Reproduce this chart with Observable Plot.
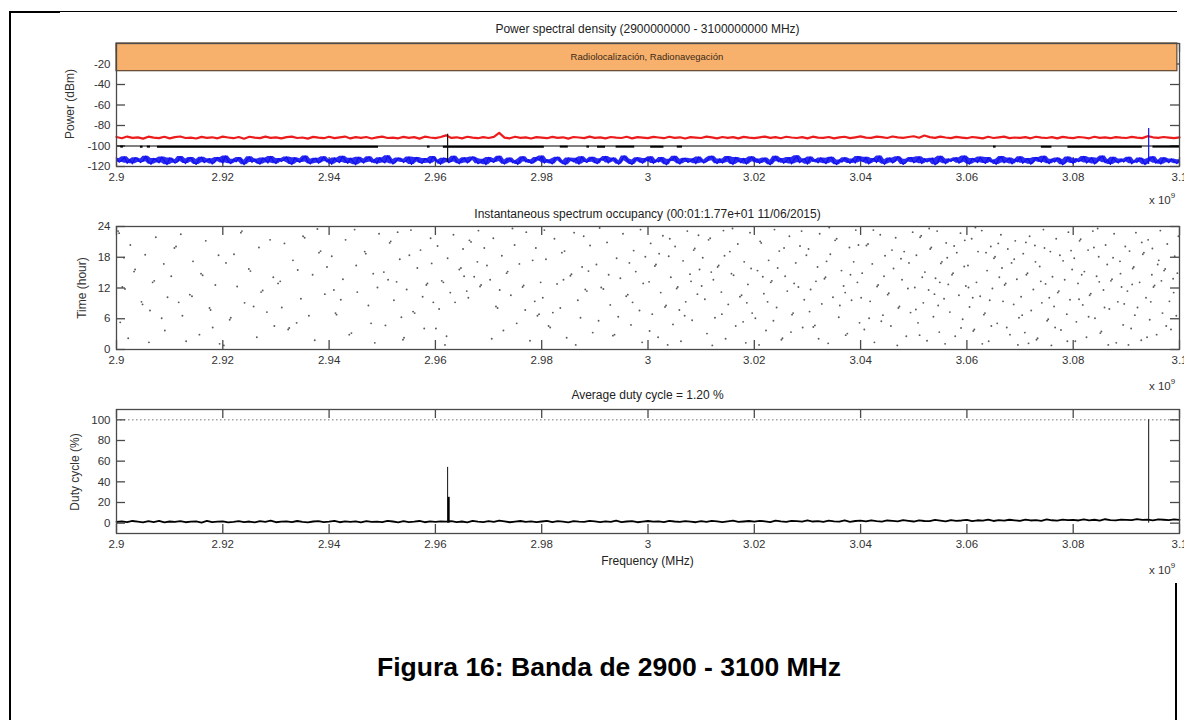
<!DOCTYPE html>
<html>
<head>
<meta charset="utf-8">
<script src="https://cdn.jsdelivr.net/npm/d3@7"></script>
<script src="https://cdn.jsdelivr.net/npm/@observablehq/plot@0.6"></script>
<style>
  body { margin: 0; background: #fff; }
  #root { position: relative; width: 1184px; height: 720px; overflow: hidden; background: #fff;
          font-family: "Liberation Sans", Arial, sans-serif; color: #222; }
  .panel { position: absolute; left: 0; }
  .ttl { position: absolute; left: 116px; width: 1063px; text-align: center; font-size: 12px; line-height: 14px; color: #222; white-space: nowrap; }
  .ylab { position: absolute; transform: translate(-50%, -50%) rotate(-90deg); font-size: 12px; white-space: nowrap; color: #333; }
  .mult { position: absolute; left: 1149px; font-size: 11.5px; color: #333; white-space: nowrap; }
  .mult sup { font-size: 8px; vertical-align: 6px; }
  .bord { position: absolute; background: #000; }
  #caption { position: absolute; left: 609px; top: 652px; transform: translateX(-50%); font-weight: bold; font-size: 26.5px; line-height: 30px; white-space: nowrap; color: #000; }
</style>
</head>
<body>
<div id="root">
  <div class="bord" style="left:9px;top:11px;width:1168px;height:1px"></div>
  <div class="bord" style="left:9px;top:11px;width:51px;height:2px"></div>
  <div class="bord" style="left:9px;top:11px;width:2px;height:709px"></div>
  <div class="bord" style="left:1175px;top:583px;width:2px;height:137px"></div>

  <div class="ttl" style="top:22px">Power spectral density (2900000000 - 3100000000 MHz)</div>
  <div class="ttl" style="top:207px">Instantaneous spectrum occupancy (00:01:1.77e+01 11/06/2015)</div>
  <div class="ttl" style="top:388px">Average duty cycle = 1.20 %</div>
  <div class="ttl" style="top:554px">Frequency (MHz)</div>

  <div class="ylab" style="left:70px;top:104px">Power (dBm)</div>
  <div class="ylab" style="left:82px;top:288px">Time (hour)</div>
  <div class="ylab" style="left:75px;top:472px">Duty cycle (%)</div>

  <div class="mult" style="top:191px">x 10<sup>9</sup></div>
  <div class="mult" style="top:377px">x 10<sup>9</sup></div>
  <div class="mult" style="top:561px">x 10<sup>9</sup></div>

  <div id="p1" class="panel" style="top:20px"></div>
  <div id="p2" class="panel" style="top:210px"></div>
  <div id="p3" class="panel" style="top:395px"></div>

  <div id="caption">Figura 16: Banda de 2900 - 3100 MHz</div>
</div>
<script>
// ---------- DATA ----------
const freqStart = 2.9;            // x 10^9 Hz
const freqEnd = 3.1;
const freqTicks = [2.9, 2.92, 2.94, 2.96, 2.98, 3.0, 3.02, 3.04, 3.06, 3.08, 3.1];
const freqTickLabels = ["2.9", "2.92", "2.94", "2.96", "2.98", "3", "3.02", "3.04", "3.06", "3.08", "3.1"];
const powerTicks = [-120, -100, -80, -60, -40, -20];
const hourTicks = [0, 6, 12, 18, 24];
const dutyTicks = [0, 20, 40, 60, 80, 100];

// allocation band
const bandName = ["Radiolocalización, Radionavegación"];
const bandFreqFrom = [2.9];
const bandFreqTo = [3.0996];
const bandPowerLow = [-27];
const bandPowerHigh = [0];

// PSD traces (sampled every 1 MHz for red, 0.5 MHz for blue)
const redStep = 0.001;
const redPower = [
 -91.2,-92.4,-90.8,-92.1,-91.6,-92.8,-90.9,-91.8,-92.3,-91.0,-92.6,-91.4,-90.7,-92.2,-91.9,-92.7,-91.1,-92.0,-91.5,-92.5,
 -90.9,-91.7,-92.4,-91.2,-92.9,-91.0,-91.8,-92.3,-90.8,-92.1,-91.6,-92.6,-91.3,-90.9,-92.2,-91.7,-92.8,-91.1,-91.9,-92.4,
 -91.0,-92.3,-91.5,-90.8,-92.6,-91.4,-92.0,-91.2,-92.7,-91.6,-90.9,-92.2,-91.8,-92.5,-91.1,-92.0,-91.4,-92.8,-90.9,-91.7,
 -92.3,-91.2,-89.6,-92.1,-91.5,-92.6,-91.0,-91.9,-92.4,-91.3,-92.2,-91.1,-87.2,-91.8,-92.5,-91.0,-92.1,-91.6,-92.7,-91.3,
 -91.9,-92.4,-91.1,-92.0,-91.5,-92.8,-91.2,-91.7,-92.3,-90.9,-92.0,-91.6,-92.5,-91.2,-91.8,-92.2,-91.0,-92.6,-91.4,-91.9,
 -92.3,-91.1,-91.7,-92.4,-91.0,-92.1,-91.5,-92.7,-91.3,-91.8,-92.2,-90.9,-91.6,-92.5,-91.2,-92.0,-91.4,-92.6,-91.1,-91.9,
 -92.3,-91.5,-90.8,-92.1,-91.3,-92.4,-91.0,-91.7,-92.2,-91.4,-92.6,-90.9,-91.8,-92.0,-91.2,-92.5,-91.6,-91.0,-92.3,-91.5,
 -90.6,-91.8,-92.1,-90.9,-91.4,-92.2,-90.7,-91.6,-92.0,-91.2,-90.5,-91.9,-89.8,-91.3,-92.1,-90.8,-91.7,-92.3,-91.1,-91.8,
 -92.4,-91.2,-91.9,-92.6,-91.0,-92.2,-91.5,-90.9,-92.3,-91.7,-92.1,-91.3,-92.5,-91.0,-91.8,-92.2,-91.4,-92.6,-91.1,-91.9,
 -92.3,-91.2,-91.7,-92.5,-91.0,-92.1,-91.6,-92.4,-91.3,-91.9,-92.2,-91.1,-91.8,-92.3,-90.4,-91.5,-92.0,-91.2,-91.8,-92.4,
 -91.6
];
const blueStep = 0.0005;
const bluePower = [
 -112.3,-115.8,-114.1,-110.6,-116.9,-113.2,-117.4,-111.5,-112.8,-116.2,-114.7,-109.9,-115.3,-117.8,-112.1,-113.9,-116.5,-110.8,-114.4,-118.2,
 -111.7,-113.5,-116.8,-115.1,-110.3,-114.9,-117.1,-112.6,-111.2,-115.7,-118.0,-113.1,-110.9,-116.3,-114.2,-112.4,-117.6,-115.0,-111.1,-113.7,
 -116.7,-109.7,-114.6,-117.3,-112.9,-115.5,-111.3,-113.8,-118.3,-114.0,-110.5,-116.1,-112.7,-115.9,-117.7,-111.8,-113.3,-116.6,-110.2,-114.8,
 -117.2,-112.2,-115.2,-113.6,-110.7,-116.4,-118.1,-111.4,-114.3,-116.0,-112.5,-109.8,-115.6,-117.5,-113.0,-111.9,-116.9,-114.5,-110.4,-115.4,
 -113.4,-117.9,-111.6,-114.9,-116.2,-110.1,-113.8,-117.0,-112.0,-115.1,-118.4,-111.0,-114.1,-116.7,-112.8,-110.6,-115.8,-113.5,-117.3,-111.4,
 -114.7,-116.5,-109.6,-113.1,-117.6,-115.3,-111.7,-112.9,-116.1,-114.4,-110.8,-118.0,-113.9,-111.2,-115.7,-117.1,-112.3,-114.0,-116.8,-110.3,
 -113.6,-115.0,-117.8,-111.9,-112.6,-116.3,-114.6,-109.9,-115.5,-117.4,-113.2,-111.5,-116.6,-114.2,-110.7,-112.1,-117.2,-115.9,-113.0,-118.3,
 -111.1,-114.8,-116.0,-112.4,-110.0,-115.2,-117.7,-113.7,-111.8,-116.4,-114.5,-118.1,-112.7,-110.5,-115.6,-113.3,-117.0,-116.2,-111.3,-114.1,
 -109.8,-116.8,-113.4,-115.1,-117.5,-112.2,-110.9,-114.3,-116.5,-118.2,-111.6,-113.8,-115.4,-112.0,-117.9,-110.4,-114.7,-116.1,-113.1,-111.0,
 -115.8,-117.3,-112.5,-114.0,-110.2,-116.7,-113.5,-111.7,-115.3,-117.8,-114.4,-109.7,-112.8,-116.3,-118.0,-113.6,-111.4,-115.0,-116.9,-112.3,
 -114.6,-110.6,-117.1,-113.9,-115.7,-111.2,-116.2,-118.4,-112.9,-114.2,-110.1,-115.5,-117.6,-113.0,-111.9,-116.0,-114.8,-112.4,-117.4,-110.8,
 -113.7,-116.6,-115.2,-111.5,-109.9,-114.5,-117.2,-112.6,-116.8,-113.2,-110.3,-115.9,-118.1,-111.1,-114.1,-116.4,-112.1,-117.7,-113.4,-110.5,
 -115.6,-112.7,-117.0,-114.3,-111.8,-116.1,-118.3,-113.8,-110.0,-115.4,-112.2,-116.9,-114.9,-111.3,-117.5,-113.1,-109.6,-116.3,-114.0,-112.5,
 -117.8,-110.7,-115.1,-113.3,-116.5,-111.6,-114.7,-117.3,-112.0,-110.9,-116.0,-118.2,-113.6,-115.8,-111.4,-114.4,-117.0,-112.8,-116.7,-110.2,
 -113.9,-115.3,-111.0,-117.6,-114.2,-112.3,-116.2,-109.8,-115.0,-117.9,-113.5,-111.7,-116.6,-114.6,-110.4,-112.9,-118.0,-115.7,-113.0,-111.2,
 -116.4,-114.8,-110.6,-117.2,-112.4,-115.5,-113.7,-111.9,-118.4,-116.1,-110.1,-114.0,-117.4,-112.6,-115.2,-113.2,-111.5,-116.8,-114.5,-109.7,
 -115.9,-117.7,-112.1,-113.4,-116.3,-110.8,-114.9,-117.0,-111.3,-115.6,-113.8,-118.1,-112.7,-110.3,-116.5,-114.3,-111.8,-117.5,-113.1,-115.4,
 -110.5,-116.9,-114.1,-112.2,-117.8,-115.0,-111.1,-113.6,-116.0,-109.9,-114.7,-117.3,-112.9,-115.8,-111.6,-113.3,-118.3,-116.2,-110.7,-114.6,
 -117.1,-112.5,-115.3,-113.9,-110.2,-116.7,-114.2,-111.4,-117.6,-115.1,-112.0,-109.8,-116.4,-113.5,-118.0,-111.0,-114.8,-116.6,-112.8,-115.7,
 -113.0,-110.9,-117.4,-114.5,-116.1,-111.7,-113.2,-118.2,-115.4,-112.3,-110.4,-116.8,-114.0,-117.7,-111.5,-113.7,-116.3,-112.6,-115.0,-117.2,
 -113.3
];
// detection threshold
const thresholdPower = [-100];
// black trace pieces: start freq, end freq, level
const blackFrom  = [2.9008, 2.9045, 2.9058, 2.9077, 2.9585, 2.9615, 2.9835, 2.9885, 2.9905, 2.9940, 3.0005, 3.0055, 3.0650, 3.0740, 3.0790, 3.0950];
const blackTo    = [2.9013, 2.9050, 2.9064, 2.9493, 2.9590, 2.9805, 2.9850, 2.9890, 2.9920, 2.9975, 3.0030, 3.0065, 3.0655, 3.0760, 3.0930, 3.1000];
const blackLevel = [-100.6, -100.7, -100.6, -100.7, -100.6, -100.7, -100.6, -100.6, -100.7, -100.6, -100.7, -100.6, -100.6, -100.7, -100.7, -100.6];
// spikes in the PSD
const spikeFreq = [2.9623, 3.0942];
const spikeLow = [-116, -118];
const spikeHigh = [-88.5, -83];
const spikeColor = ["#111", "#1010f0"];

// occupancy events: [MHz above 2900 MHz, hour]
const occupancy = [
 [0.3,23.1],[0.5,22.7],[1.4,17.9],[1.1,12.2],[1.6,11.8],[0.7,5.3],[2.6,20.4],[3.3,15.2],[3.5,15.6],[2.2,2.2],[4.7,9.3],[4.9,8.8],[5.4,18.5],[6.1,1.4],[6.8,13.1],[7.1,13.4],[7.4,21.9],[8.5,6.1],[8.9,16.7],[9.6,10.2],[9.1,3.7],[6.3,7.6],
 [10.3,14.3],[10.9,19.8],[11.2,20.1],[12.4,6.6],[12.1,22.5],[13.8,10.7],[14.2,10.4],[14.4,17.2],[15.6,2.9],[15.9,14.8],[16.2,14.5],[16.8,21.2],[17.5,8.1],[17.7,7.7],[18.6,12.6],[19.2,18.4],[19.4,1.1],[18.1,4.3],[13.1,1.6],[11.7,9.2],
 [20.6,16.9],[21.3,5.8],[21.5,6.2],[22.7,12.3],[23.4,22.8],[23.6,23.1],[24.1,9.1],[24.9,15.7],[25.2,15.3],[26.4,2.4],[26.8,19.9],[27.5,11.5],[27.2,11.2],[28.3,7.3],[28.9,21.4],[29.5,14.1],[29.7,4.6],[22.1,18.6],[25.8,8.4],[20.2,0.8],
 [30.4,12.9],[30.8,13.3],[31.6,20.7],[32.3,3.9],[32.5,4.2],[33.2,17.4],[34.7,9.9],[35.1,22.1],[35.4,21.8],[36.2,6.6],[36.9,14.6],[37.3,1.8],[38.1,18.9],[38.4,19.2],[39.2,10.8],[39.6,16.1],[31.1,8.2],[34.1,15.5],[37.8,23.5],[33.9,5.2],
 [40.5,18.2],[41.2,7.1],[41.4,6.8],[42.6,13.7],[43.1,21.4],[43.8,2.9],[44.2,3.2],[45.3,11.2],[45.1,16.4],[46.7,19.1],[46.9,18.7],[47.4,8.6],[48.3,14.8],[48.6,1.3],[49.4,22.6],[49.1,12.1],[40.9,11.6],[44.8,23.4],[47.9,5.1],[42.2,9.7],
 [50.3,15.1],[50.6,4.7],[51.4,20.8],[51.6,21.1],[52.2,9.6],[52.7,13.2],[53.3,17.6],[53.9,1.9],[54.1,2.3],[54.6,11.7],[55.4,23.3],[55.8,7.4],[56.1,7.1],[56.6,15.9],[57.2,19.4],[57.9,4.1],[58.3,12.6],[58.5,12.9],[59.1,21.7],[59.6,9.2],[51.1,13.6],[53.6,6.3],[55.1,18.4],[57.6,10.3],[59.3,16.8],[52.9,22.9],
 [60.4,20.2],[60.7,7.9],[61.2,13.4],[61.5,13.1],[62.3,17.8],[62.1,2.6],[63.4,22.4],[63.7,9.2],[64.5,15.6],[64.8,15.9],[65.2,19.6],[65.9,11.4],[66.4,21.3],[66.7,21.0],[67.3,14.2],[67.9,17.1],[68.4,12.3],[68.6,12.6],[69.2,19.8],[69.7,16.4],[60.1,4.1],[62.8,11.1],[65.4,14.3],[68.1,23.2],[66.2,10.1],[61.8,0.9],
 [70.3,13.6],[70.9,21.7],[71.4,8.4],[71.7,8.1],[72.5,18.3],[72.8,3.7],[73.4,14.9],[73.6,15.2],[74.2,10.6],[74.9,20.4],[75.3,5.1],[75.8,16.7],[76.4,12.2],[76.6,12.5],[77.1,22.9],[77.8,1.7],[78.3,17.4],[78.7,9.4],[79.2,6.6],[79.5,6.9],[70.6,2.1],[72.1,11.6],[74.5,23.6],[76.9,7.7],[78.9,19.8],[79.8,13.1],
 [80.2,10.1],[80.8,17.6],[81.3,4.6],[81.6,4.3],[82.4,21.6],[82.9,12.8],[83.5,8.1],[83.8,18.9],[84.3,19.2],[84.7,2.3],[85.4,14.4],[85.6,14.7],[86.1,22.8],[86.8,9.6],[87.3,6.2],[87.6,16.1],[88.2,11.7],[88.5,11.4],[89.1,20.3],[89.6,3.3],[80.5,23.3],[82.1,7.2],[84.1,13.6],[86.4,0.9],[88.8,15.3],[87.9,22.1],
 [90.3,16.6],[90.7,5.6],[91.2,12.1],[91.6,11.8],[92.3,20.9],[92.9,8.7],[93.4,2.7],[93.7,2.9],[94.1,17.8],[94.8,13.9],[95.3,22.6],[95.9,10.4],[96.2,10.7],[96.8,4.8],[97.3,19.3],[97.7,15.2],[98.4,7.6],[98.6,23.4],[99.1,12.9],[99.5,18.1],[90.9,23.7],[92.6,14.6],[94.4,6.4],[96.5,16.9],[98.9,1.4],[97.1,9.2],
 [100.2,13.2],[100.5,20.7],[100.8,6.9],[101.3,16.3],[101.5,16.6],[101.9,2.4],[102.4,11.1],[102.8,22.2],[103.2,8.3],[103.4,8.6],[103.9,18.2],[104.3,14.1],[104.7,4.9],[105.1,20.1],[105.4,11.9],[105.6,12.2],[106.2,1.6],[106.6,17.3],[107.1,9.3],[107.4,23.1],[107.9,14.7],[108.3,5.7],[108.6,19.4],[108.8,19.7],[109.3,10.8],[109.7,15.6],[100.3,3.6],[102.1,18.7],[104.1,21.6],[106.9,6.6],[108.1,13.3],[105.9,7.7],[103.7,0.9],[109.5,22.3],
 [110.3,17.9],[110.7,9.8],[111.1,3.1],[111.4,21.4],[111.7,21.7],[112.3,13.6],[112.6,6.2],[113.1,16.1],[113.3,16.4],[113.8,11.2],[114.2,23.2],[114.6,2.1],[115.1,8.8],[115.4,19.1],[115.7,14.8],[116.1,14.5],[116.5,4.6],[116.9,20.6],[117.3,10.3],[117.6,10.6],[118.1,17.1],[118.4,1.3],[118.8,12.7],[119.2,22.8],[119.6,7.1],[110.1,12.4],[112.1,0.8],[113.9,6.9],[115.9,23.6],[117.9,5.4],[119.4,15.8],[114.4,18.3],[111.9,15.1],[118.6,9.1],
 [120.2,6.1],[120.6,15.4],[121.1,21.1],[121.3,20.8],[121.8,10.9],[122.2,3.7],[122.7,17.4],[123.1,13.1],[123.3,13.4],[123.8,23.4],[124.2,8.2],[124.7,19.2],[125.1,1.9],[125.3,2.2],[125.8,14.3],[126.2,11.4],[126.6,22.1],[127.1,6.8],[127.3,7.1],[127.8,16.9],[128.3,12.2],[128.6,20.2],[129.1,4.3],[129.4,9.7],[129.8,18.4],[120.9,0.9],[122.5,9.3],[124.4,15.9],[126.9,3.4],[128.9,23.1],[123.6,5.6],[127.5,12.9],[121.6,14.2],[125.6,19.8],
 [130.2,19.6],[130.6,11.7],[131.1,4.4],[131.4,4.7],[131.9,16.1],[132.3,22.6],[132.7,8.9],[133.2,13.8],[133.4,14.1],[133.9,1.2],[134.3,18.6],[134.8,10.2],[135.2,21.3],[135.5,21.6],[135.9,6.3],[136.4,15.4],[136.8,12.4],[137.2,2.8],[137.5,3.1],[137.9,19.9],[138.3,9.6],[138.7,17.1],[139.1,23.3],[139.4,13.1],[139.8,5.2],[130.4,7.4],[132.1,2.1],[134.1,23.8],[136.1,8.6],[138.1,14.6],[139.6,20.4],[133.6,17.2],[131.6,13.3],[137.1,11.1],
 [140.3,14.9],[140.7,3.9],[141.1,20.3],[141.4,20.6],[141.8,9.4],[142.2,16.7],[142.6,1.4],[143.1,12.3],[143.3,12.6],[143.7,22.4],[144.2,6.7],[144.6,18.3],[145.1,10.7],[145.3,11.0],[145.7,4.6],[146.2,15.8],[146.6,21.8],[147.1,8.1],[147.3,8.4],[147.8,13.6],[148.2,19.1],[148.6,2.6],[149.1,16.9],[149.4,7.2],[149.8,22.9],[140.1,10.1],[142.4,23.3],[144.4,14.3],[146.9,0.8],[148.9,11.9],[143.9,5.5],[145.9,19.4],[141.6,6.1],[147.6,17.7],
 [150.2,12.1],[150.5,18.4],[150.8,5.2],[151.2,21.9],[151.4,22.2],[151.8,9.1],[152.1,15.1],[152.5,1.7],[152.8,11.6],[153.1,19.6],[153.3,19.9],[153.7,6.4],[154.1,13.9],[154.4,23.1],[154.8,3.4],[155.1,16.8],[155.3,17.1],[155.7,9.9],[156.1,20.8],[156.5,12.7],[156.8,7.3],[157.2,14.6],[157.4,14.9],[157.8,2.6],[158.1,18.9],[158.5,10.6],[158.8,22.7],[159.2,5.9],[159.5,16.2],[159.8,12.4],[150.4,7.8],[151.6,14.1],[152.9,23.6],[154.6,8.6],[155.9,1.1],[157.6,20.2],[158.9,4.2],[156.3,17.9],[153.9,10.8],[151.1,2.8],[159.6,21.3],[154.9,13.1],
 [160.2,16.4],[160.5,8.3],[160.9,21.6],[161.2,3.6],[161.4,3.9],[161.8,13.1],[162.1,19.1],[162.5,10.4],[162.8,23.2],[163.2,6.8],[163.4,7.1],[163.8,15.4],[164.1,1.6],[164.5,20.1],[164.8,11.9],[165.1,17.8],[165.3,18.1],[165.7,5.1],[166.1,14.1],[166.4,22.4],[166.8,9.4],[167.1,12.6],[167.3,12.9],[167.7,19.6],[168.1,2.9],[168.4,16.9],[168.8,8.8],[169.1,21.2],[169.4,13.7],[169.8,6.2],[160.3,12.1],[161.6,23.8],[162.9,1.1],[164.3,9.6],[165.9,20.7],[167.5,4.3],[168.9,17.6],[166.6,15.9],[163.6,18.9],[161.1,10.1],[169.6,0.9],[164.6,4.6],
 [170.2,10.3],[170.6,18.7],[170.9,3.3],[171.2,14.6],[171.4,14.9],[171.8,22.1],[172.1,7.6],[172.5,11.7],[172.8,20.3],[173.1,1.9],[173.3,2.2],[173.7,16.2],[174.1,9.1],[174.4,23.4],[174.8,12.8],[175.1,5.6],[175.3,5.9],[175.7,19.1],[176.1,14.2],[176.4,8.4],[176.8,21.6],[177.1,11.1],[177.3,11.4],[177.7,3.8],[178.1,17.3],[178.4,13.6],[178.8,6.9],[179.1,22.9],[179.4,9.7],[179.8,15.6],[170.4,6.7],[171.6,1.2],[172.9,17.1],[174.6,19.8],[175.9,0.8],[177.5,18.4],[178.9,1.6],[176.6,4.3],[173.9,13.3],[171.1,20.9],[179.6,19.3],[175.5,10.1],
 [180.2,17.8],[180.6,5.4],[180.9,12.9],[181.2,21.2],[181.4,21.5],[181.8,8.7],[182.1,15.2],[182.5,2.4],[182.8,19.4],[183.1,10.6],[183.3,10.9],[183.7,23.1],[184.1,6.1],[184.4,14.3],[184.8,18.1],[185.1,3.2],[185.3,3.5],[185.7,11.6],[186.1,20.4],[186.4,16.6],[186.8,7.9],[187.1,13.4],[187.3,13.7],[187.7,22.6],[188.1,1.3],[188.4,9.3],[188.8,17.2],[189.1,12.2],[189.4,4.8],[189.8,20.1],[180.4,1.6],[181.6,14.6],[182.9,6.4],[184.6,23.6],[185.9,8.2],[187.5,17.9],[188.9,14.8],[186.6,0.9],[183.9,19.9],[181.1,9.8],[189.6,8.9],[184.9,13.2],
 [190.2,11.4],[190.6,19.2],[190.9,4.1],[191.2,15.8],[191.4,16.1],[191.8,22.8],[192.1,8.2],[192.5,13.1],[192.8,1.8],[193.1,18.6],[193.3,18.9],[193.7,10.1],[194.1,21.4],[194.4,5.8],[194.8,14.6],[195.1,12.2],[195.3,12.5],[195.7,2.9],[196.1,17.4],[196.4,23.2],[196.8,7.1],[197.1,15.4],[197.3,15.7],[197.7,20.6],[198.1,9.4],[198.4,3.9],[198.8,13.8],[199.1,18.2],[199.4,6.6],[199.8,22.1],[190.4,0.9],[191.6,6.7],[192.9,20.9],[194.6,9.3],[195.9,16.6],[197.5,4.6],[198.9,11.1],[196.6,13.4],[193.9,2.4],[191.1,12.7],[199.6,14.9],[194.9,19.7]
];

// duty cycle (%) every 1 MHz
const dutyStep = 0.001;
const dutyCycle = [
 1.2,1.8,0.9,2.1,1.4,0.7,1.9,1.1,2.3,0.8,1.6,1.3,2.0,0.9,1.5,1.7,0.6,2.2,1.0,1.4,
 1.8,0.8,1.3,2.0,1.1,1.6,0.7,1.9,1.2,2.4,0.9,1.5,1.7,1.0,2.1,1.3,0.8,1.6,1.9,1.1,
 1.4,2.2,0.9,1.7,1.2,1.8,0.7,2.0,1.3,1.5,1.0,2.3,1.6,0.8,1.9,1.1,1.4,2.1,0.9,1.7,
 1.3,1.8,1.5,2.0,1.1,1.6,0.8,2.2,1.4,1.0,1.9,1.2,2.5,1.7,0.9,1.5,2.1,1.3,1.8,1.0,
 1.6,2.3,1.1,1.9,1.4,0.8,2.0,1.5,1.2,2.2,1.7,1.0,1.8,1.3,2.4,1.1,1.6,2.0,0.9,1.5,
 2.1,1.4,1.8,1.1,2.3,1.6,1.2,2.0,1.5,0.9,1.9,1.3,2.2,1.7,1.0,1.8,2.4,1.2,1.6,2.1,
 1.5,2.3,1.8,1.1,2.5,1.7,1.3,2.2,1.9,1.4,2.6,1.6,2.0,1.2,2.4,1.8,1.5,2.7,1.3,2.1,
 2.4,1.7,2.8,2.0,1.5,2.6,2.2,1.8,3.0,2.3,1.6,2.7,2.1,1.9,3.1,2.4,1.7,2.9,2.2,2.6,
 3.2,2.0,2.8,2.5,3.4,2.1,2.9,2.4,3.3,2.7,2.2,3.5,2.6,3.0,2.3,3.6,2.8,2.5,3.4,2.9,
 3.1,2.6,3.7,2.8,3.3,2.4,3.8,3.0,2.7,3.5,3.2,2.9,3.9,3.1,3.4,2.8,3.7,3.3,3.0,3.6,
 3.2
];
const dutySpikeFreq = [2.9623, 2.9625, 3.0942];
const dutySpikeValue = [54, 25, 100];
const dutySpikeWidth = [1, 2, 1];
const dutyFull = [100];

// ---------- CHARTS ----------
const W = 1184, ML = 116, MR = 5;
const FRAME = "#4a4a4a";
const TICKLEN = 9;
const fmtFreq = d => freqTickLabels[freqTicks.findIndex(t => Math.abs(t - d) < 1e-9)];
const style = {fontFamily: "'Liberation Sans', Arial, sans-serif", fontSize: "11.5px", color: "#333", background: "transparent", overflow: "visible"};

function inwardTicks(yTicks, plotH) {
  return [
    Plot.ruleX(freqTicks, {x: d => d, insetTop: plotH - TICKLEN, stroke: FRAME, strokeWidth: 1.3}),
    Plot.ruleX(freqTicks, {x: d => d, insetBottom: plotH - TICKLEN, stroke: FRAME, strokeWidth: 1.3}),
    Plot.ruleY(yTicks, {y: d => d, insetRight: (W - ML - MR) - TICKLEN, stroke: FRAME, strokeWidth: 1.3}),
    Plot.ruleY(yTicks, {y: d => d, insetLeft: (W - ML - MR) - TICKLEN, stroke: FRAME, strokeWidth: 1.3})
  ];
}
function axes(yTicks) {
  return [
    Plot.axisX(freqTicks, {tickSize: 0, tickPadding: 6, tickFormat: fmtFreq, fill: "#333", label: null}),
    Plot.axisY(yTicks, {tickSize: 0, tickPadding: 6, tickFormat: d => String(d), fill: "#333", label: null})
  ];
}

// Panel 1: PSD
{
  const H = 190, MT = 23, MB = 44, plotH = H - MT - MB;
  const red = redPower.map((v, i) => ({f: freqStart + i * redStep, v}));
  // blue trace with its local (3-sample) envelope, so the dense noise reads as a solid band
  const blue = bluePower.map((v, i) => {
    const w = bluePower.slice(Math.max(0, i - 1), i + 2);
    return {f: freqStart + i * blueStep, v, lo: d3.min(w), hi: d3.max(w)};
  });
  const black = blackFrom.map((f, i) => ({f1: f, f2: blackTo[i], v: blackLevel[i]}));
  const spikes = spikeFreq.map((f, i) => ({f, lo: spikeLow[i], hi: spikeHigh[i], c: spikeColor[i]}));
  const band = bandName.map((n, i) => ({n, f1: bandFreqFrom[i], f2: bandFreqTo[i], lo: bandPowerLow[i], hi: bandPowerHigh[i]}));
  const chart = Plot.plot({
    width: W, height: H, marginLeft: ML, marginRight: MR, marginTop: MT, marginBottom: MB,
    style,
    x: {domain: [freqStart, freqEnd], label: null},
    y: {domain: [-120, 0], label: null},
    marks: [
      ...inwardTicks(powerTicks, plotH),
      Plot.ruleY(thresholdPower, {y: d => d, stroke: "#000", strokeWidth: 1}),
      Plot.ruleY(black, {x1: "f1", x2: "f2", y: "v", stroke: "#000", strokeWidth: 2}),
      Plot.line(red, {x: "f", y: "v", stroke: "#ec1c1c", strokeWidth: 2.2}),
      Plot.areaY(blue, {x: "f", y1: "lo", y2: "hi", fill: "#1414ee", fillOpacity: 0.9}),
      Plot.line(blue, {x: "f", y: "v", stroke: "#1010f0", strokeWidth: 1.2}),
      Plot.ruleX(spikes, {x: "f", y1: "lo", y2: "hi", stroke: "c", strokeWidth: 1.2}),
      Plot.rect(band, {x1: "f1", x2: "f2", y1: "lo", y2: "hi", fill: "#f8b16c", stroke: "#5e4630", strokeWidth: 1.2}),
      Plot.text(band, {x: d => (d.f1 + d.f2) / 2, y: d => (d.lo + d.hi) / 2, text: "n", fontSize: 9.5, fill: "#3a2a1a"}),
      Plot.frame({stroke: FRAME, strokeWidth: 1.3}),
      ...axes(powerTicks)
    ]
  });
  document.getElementById("p1").appendChild(chart);
}

// Panel 2: occupancy
{
  const H = 170, MT = 16, MB = 31, plotH = H - MT - MB;
  const pts = occupancy.map(([mhz, h]) => ({f: freqStart + mhz / 1000, h}));
  const chart = Plot.plot({
    width: W, height: H, marginLeft: ML, marginRight: MR, marginTop: MT, marginBottom: MB,
    style,
    x: {domain: [freqStart, freqEnd], label: null},
    y: {domain: [0, 24], label: null},
    marks: [
      Plot.dot(pts, {x: "f", y: "h", r: 0.95, fill: "#5a5a5a", stroke: "none"}),
      ...inwardTicks(hourTicks, plotH),
      Plot.frame({stroke: FRAME, strokeWidth: 1.3}),
      ...axes(hourTicks)
    ]
  });
  document.getElementById("p2").appendChild(chart);
}

// Panel 3: duty cycle
{
  const H = 170, MT = 14, MB = 32, plotH = H - MT - MB;
  const duty = dutyCycle.map((v, i) => ({f: freqStart + i * dutyStep, v}));
  const dspikes = dutySpikeFreq.map((f, i) => ({f, v: dutySpikeValue[i], w: dutySpikeWidth[i]}));
  const chart = Plot.plot({
    width: W, height: H, marginLeft: ML, marginRight: MR, marginTop: MT, marginBottom: MB,
    style,
    x: {domain: [freqStart, freqEnd], label: null},
    y: {domain: [-10, 110], label: null},
    marks: [
      Plot.ruleY(dutyFull, {y: d => d, stroke: "#777", strokeWidth: 1, strokeDasharray: "1.5,2.5"}),
      ...inwardTicks(dutyTicks, plotH),
      Plot.line(duty, {x: "f", y: "v", stroke: "#000", strokeWidth: 1.8}),
      Plot.ruleX(dspikes.filter(d => d.w === 1), {x: "f", y1: 0, y2: "v", stroke: "#111", strokeWidth: 1}),
      Plot.ruleX(dspikes.filter(d => d.w === 2), {x: "f", y1: 0, y2: "v", stroke: "#000", strokeWidth: 2}),
      Plot.frame({stroke: FRAME, strokeWidth: 1.3}),
      ...axes(dutyTicks)
    ]
  });
  document.getElementById("p3").appendChild(chart);
}
</script>
</body>
</html>
